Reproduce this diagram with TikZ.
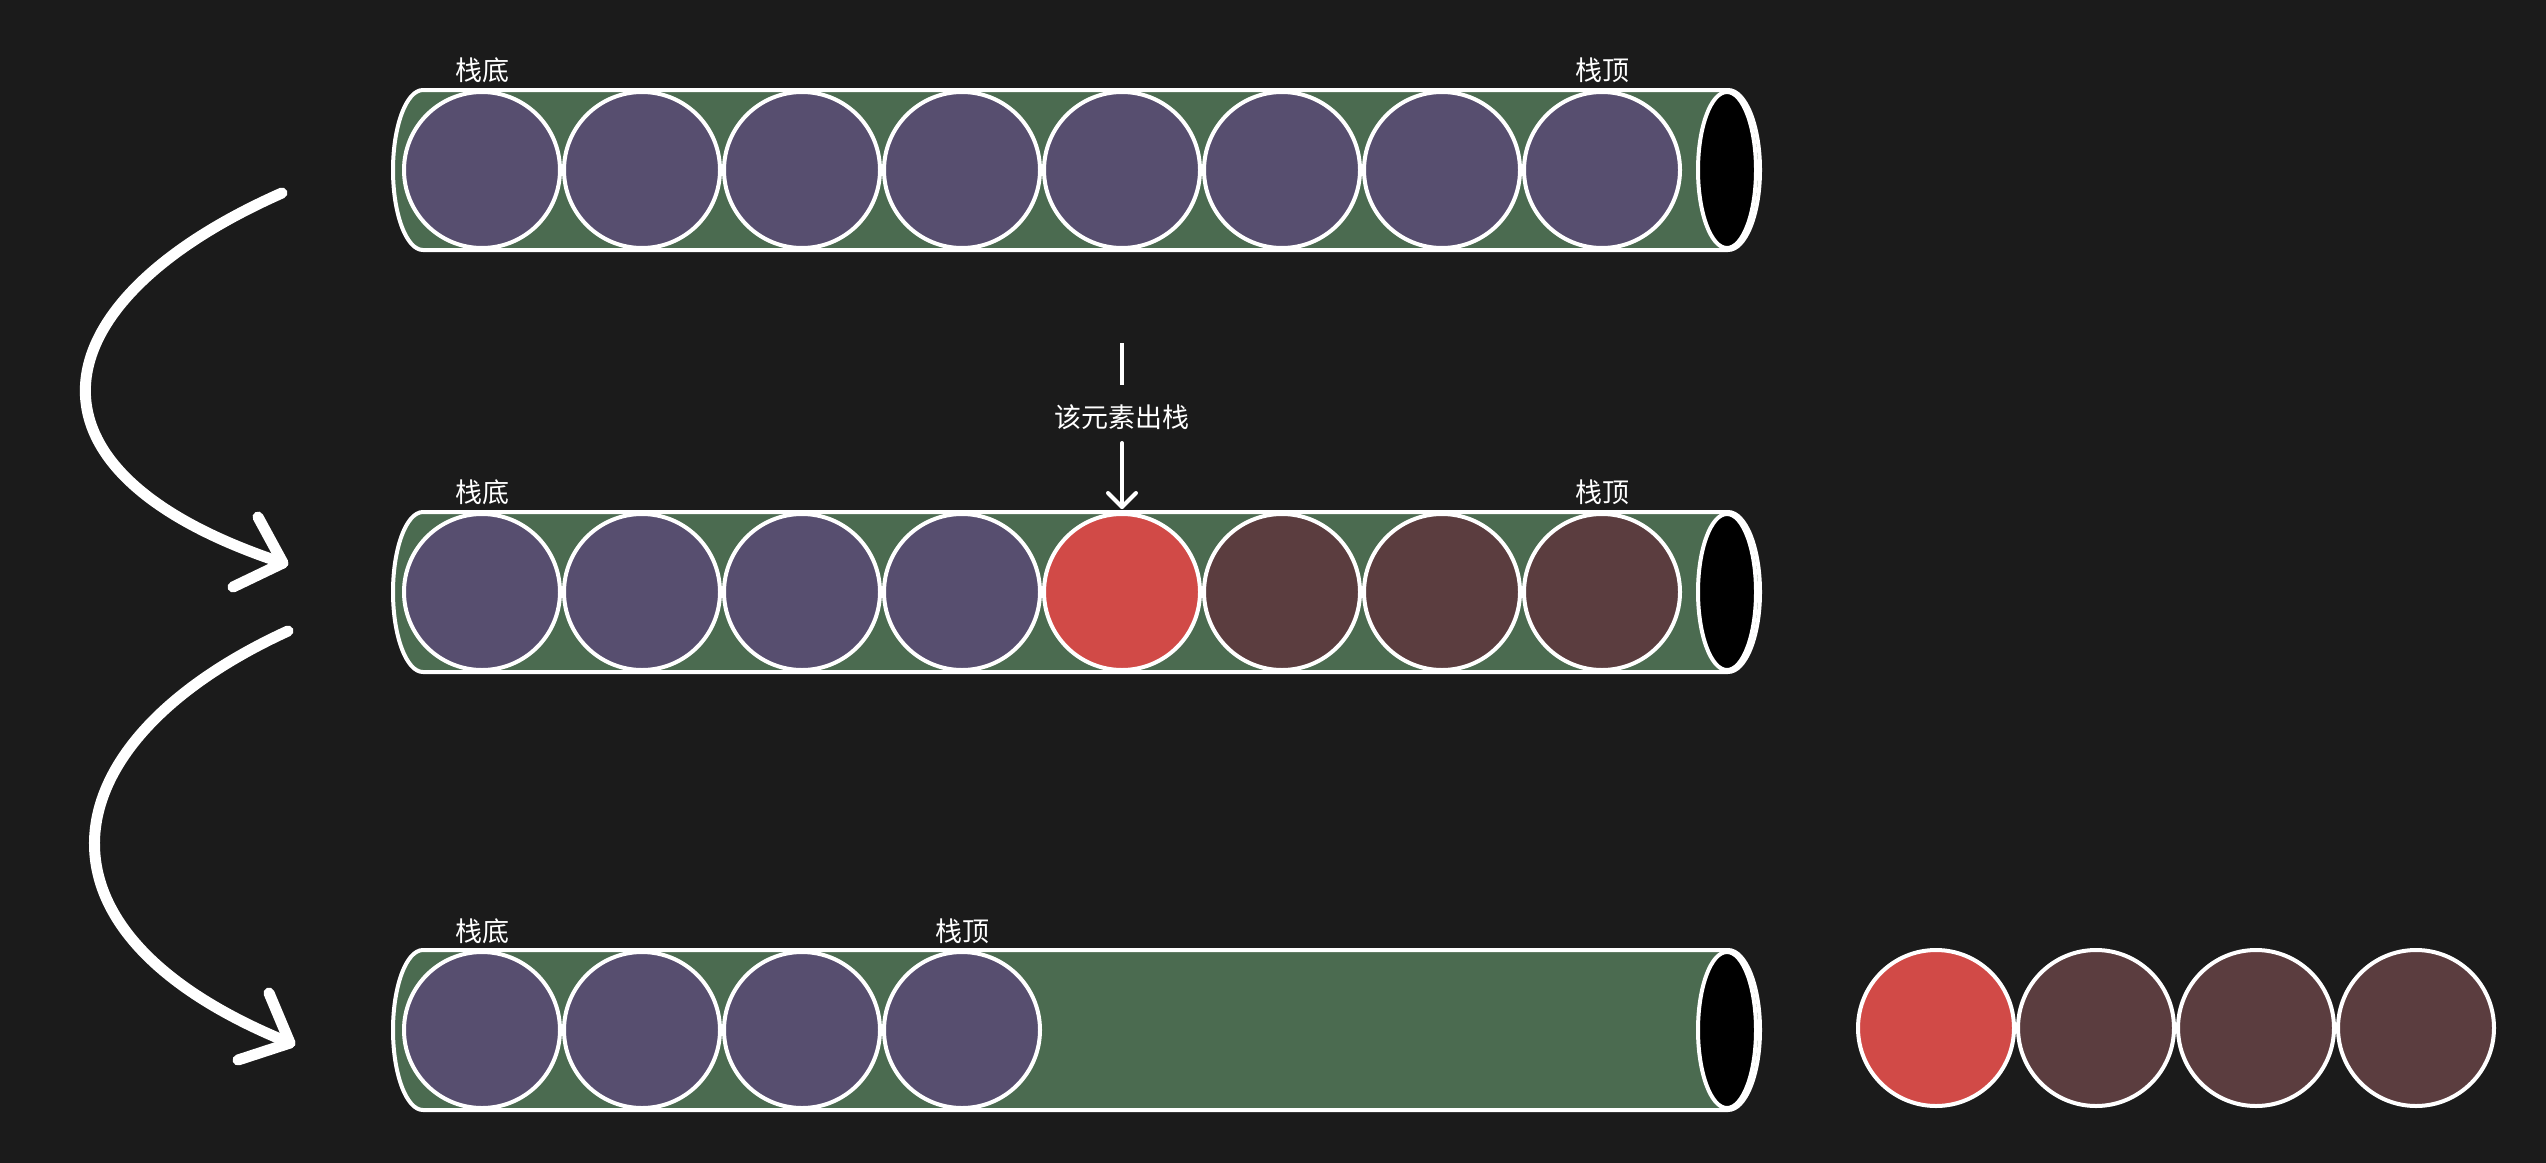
\documentclass[tikz,border=0pt]{standalone}
\usepackage{fontspec}
\setmainfont{Noto Sans CJK SC}
\definecolor{cbg}{HTML}{1B1B1B}
\definecolor{cgreen}{HTML}{4B6B50}
\definecolor{cpur}{HTML}{574E6F}
\definecolor{cred}{HTML}{D14A47}
\definecolor{cbrown}{HTML}{5B3D3F}
\newcommand{\drawtube}[1]{%
  \path[tubebody] (423,{#1-80}) -- (1728,{#1-80})
    arc[start angle=-90, end angle=90, x radius=32, y radius=80]
    -- (423,{#1+80})
    arc[start angle=90, end angle=270, x radius=30, y radius=80] -- cycle;
  \draw[white, fill=black, line width=4pt] (1727,#1) ellipse[x radius=29, y radius=78];
}
\begin{document}
\begin{tikzpicture}[x=1pt,y=-1pt,
  ball/.style={circle, draw=white, line width=4pt, minimum size=156pt, inner sep=0pt},
  pur/.style={ball, fill=cpur},
  redb/.style={ball, fill=cred},
  brn/.style={ball, fill=cbrown},
  lab/.style={text=white, font=\fontsize{27}{30}\selectfont, inner sep=0pt},
  tubebody/.style={fill=cgreen, draw=white, line width=4pt},
  bigarrow/.style={draw=white, line width=11pt, line cap=round, line join=round},
  smallarrow/.style={draw=white, line width=4pt, line cap=round, line join=round},
]
\useasboundingbox (0,0) rectangle (2546,1162);
\fill[cbg] (-10,-10) rectangle (2556,1172);

% Row 1
\drawtube{170}
\foreach \i in {1,...,8} {
  \node[pur] (a\i) at ({482+160*(\i-1)},170) {};
}
\node[lab] (abot) at (482,70) {栈底};
\node[lab] (atop) at (1602,70) {栈顶};

% Row 2
\drawtube{592}
\foreach \i in {1,...,4} {
  \node[pur] (b\i) at ({482+160*(\i-1)},592) {};
}
\node[redb] (b5) at (1122,592) {};
\foreach \i in {6,7,8} {
  \node[brn] (b\i) at ({482+160*(\i-1)},592) {};
}
\node[lab] (bbot) at (482,492) {栈底};
\node[lab] (btop) at (1602,492) {栈顶};

% pop label and arrow
\node[lab] (pop) at (1122,417) {该元素出栈};
\coordinate (p1) at (1122,343);
\coordinate (p2) at (1122,385);
\coordinate (p3) at (1122,443);
\coordinate (p4) at (1122,507);
\draw[white, line width=4pt] (p1) -- (p2);
\draw[smallarrow] (p3) -- (p4);
\draw[smallarrow] (1108,493) -- (p4) -- (1136,493);

% Row 3
\drawtube{1030}
\foreach \i in {1,...,4} {
  \node[pur] (c\i) at ({482+160*(\i-1)},1030) {};
}
\node[lab] (cbot) at (482,931) {栈底};
\node[lab] (ctop) at (962,931) {栈顶};

% popped elements
\node[redb] (d1) at (1936,1028) {};
\node[brn] (d2) at (2096,1028) {};
\node[brn] (d3) at (2256,1028) {};
\node[brn] (d4) at (2416,1028) {};

% curved arrows
\coordinate (s1) at (282,193);
\coordinate (t1) at (283,563);
\draw[bigarrow] (s1) .. controls (40,300) and (0,470) .. (t1);
\draw[bigarrow] (258,517) -- (t1) -- (233,587);

\coordinate (s2) at (288,631);
\coordinate (t2) at (290,1043);
\draw[bigarrow] (s2) .. controls (50,740) and (10,930) .. (t2);
\draw[bigarrow] (269,993) -- (t2) -- (238,1060);
\end{tikzpicture}
\end{document}
